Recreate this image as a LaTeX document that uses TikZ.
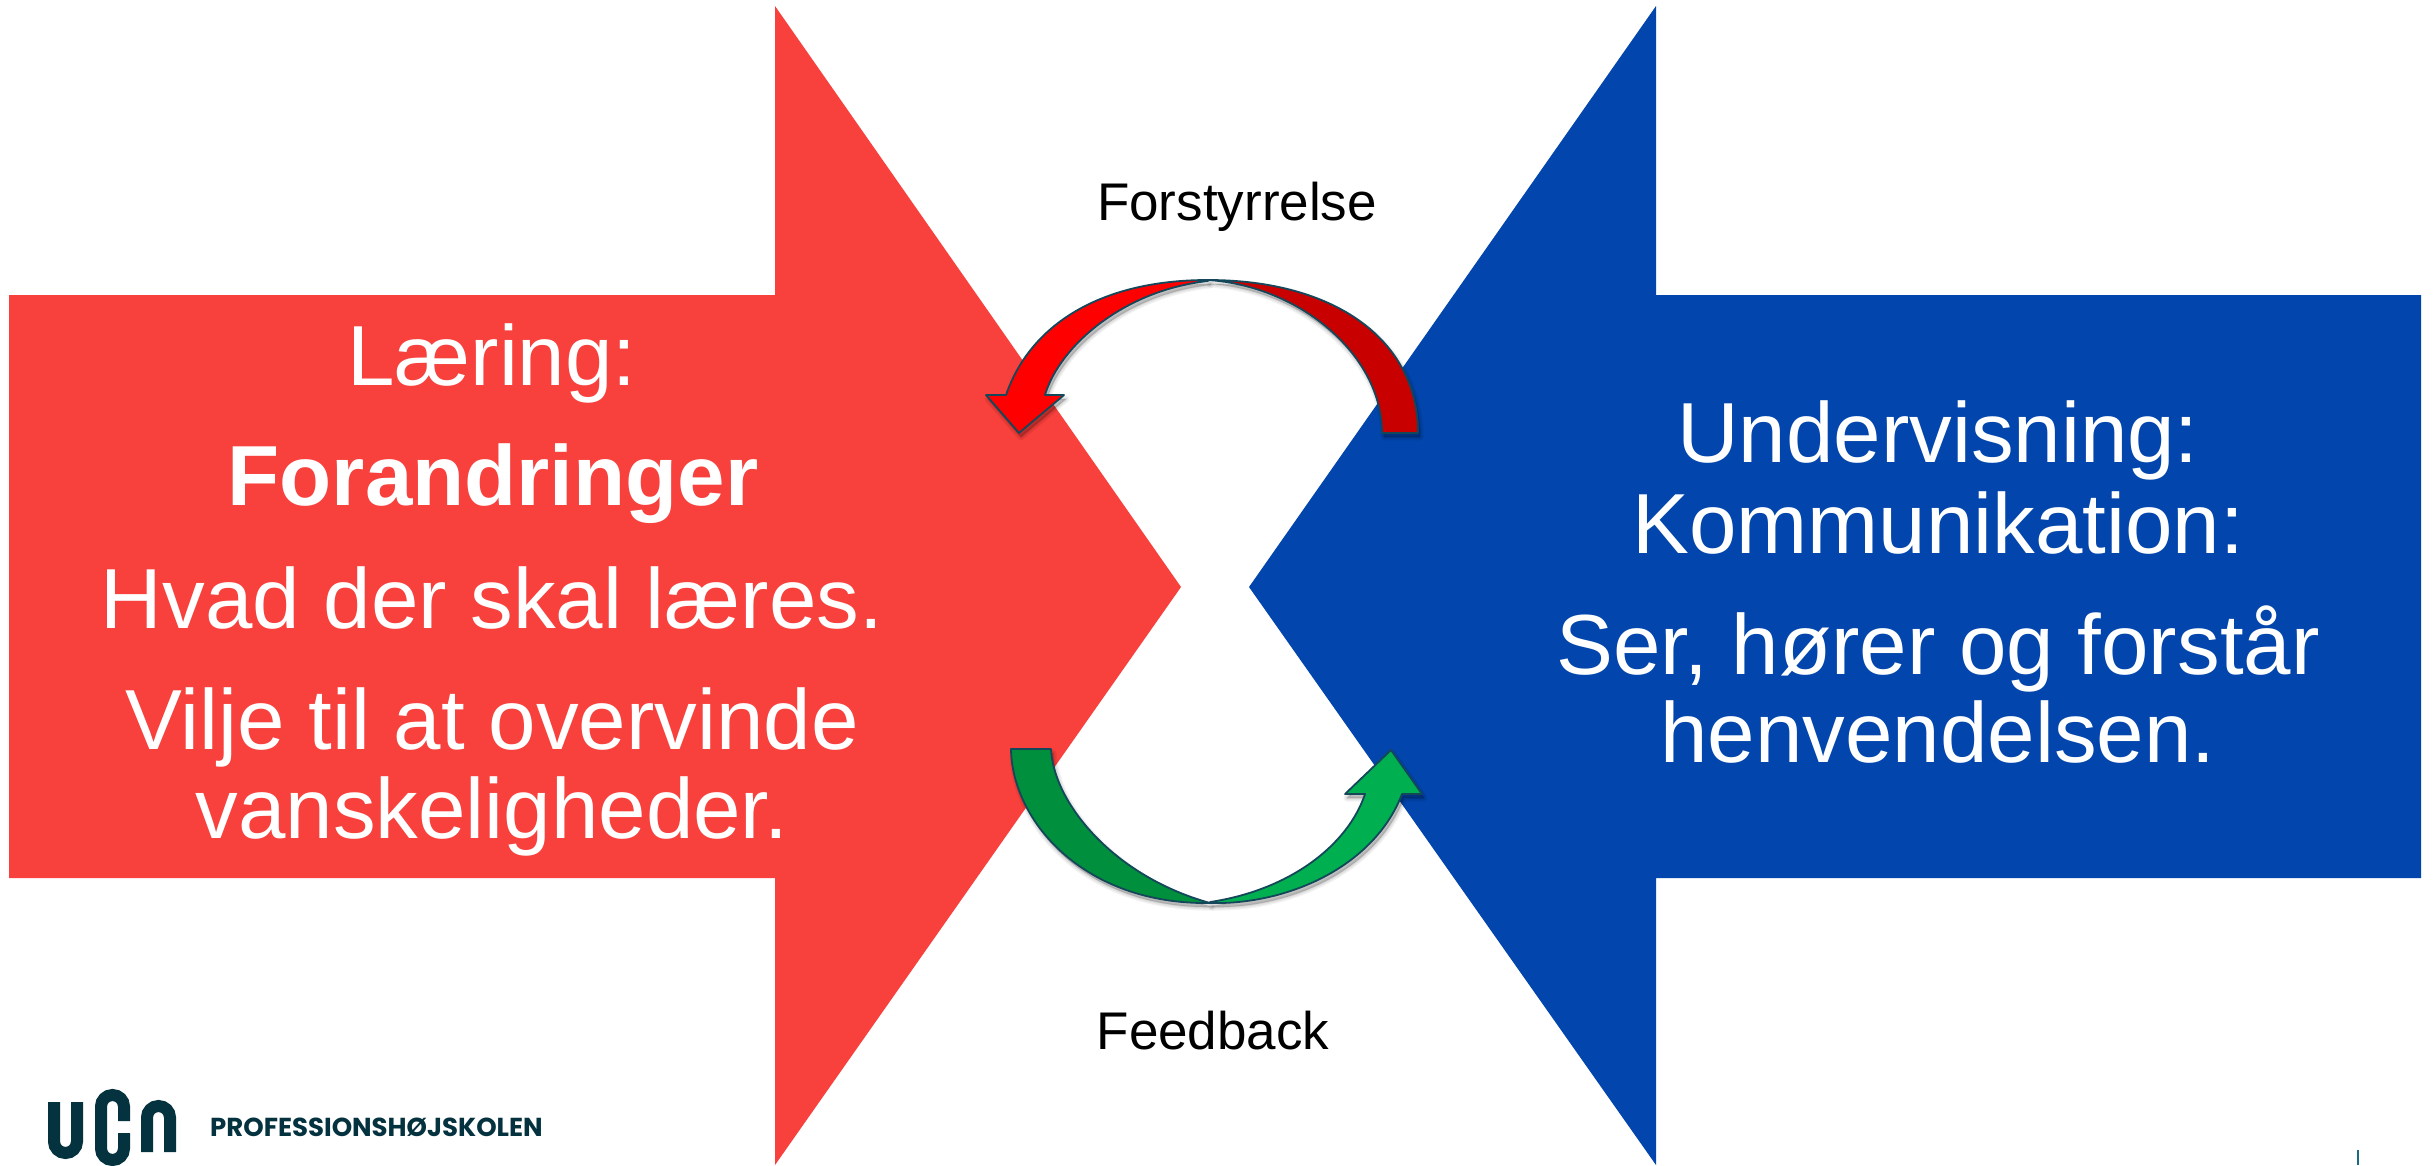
\documentclass[tikz,border=0pt]{standalone}
\usepackage{fontspec}
\setmainfont{Liberation Sans}
\newfontfamily\logofont{Poppins}
\definecolor{redarrow}{HTML}{F8403C}
\definecolor{bluearrow}{HTML}{0245AC}
\definecolor{outl}{HTML}{14475A}
\definecolor{logoink}{HTML}{04323F}
\definecolor{tick}{HTML}{1A6B80}
\definecolor{redA}{HTML}{FF0000}
\definecolor{redB}{HTML}{C80000}
\definecolor{greenA}{HTML}{00B050}
\definecolor{greenB}{HTML}{008F3C}
\tikzset{
  bigtext/.style={anchor=base,inner sep=0pt,text=white,font=\fontsize{85.3}{100}\selectfont},
  smalltext/.style={anchor=base,inner sep=0pt,text=black,font=\fontsize{53}{60}\selectfont},
  curved/.style={draw=outl,line width=1.8pt,line join=round},
  shadowlayer/.style={draw=black,fill=black,draw opacity=.05,fill opacity=.05,line join=round},
  logostroke/.style={draw=logoink,line width=12pt,rounded corners=11.5pt}
}
\def\redright{(1418,433) .. controls (1418,340) and (1335,280) .. (1208,280) .. controls (1300,286) and (1382,355) .. (1382,433) -- cycle}
\def\redleft{(1208,280) .. controls (1100,280) and (1030,325) .. (1006,395) -- (986,395) -- (1019,433) -- (1064,395) -- (1045,395) .. controls (1060,345) and (1125,290) .. (1208,281) -- cycle}
\def\greenleft{(1011,749) .. controls (1012,822) and (1085,905) .. (1210,903) .. controls (1110,875) and (1053,800) .. (1051,749) -- cycle}
\def\greenright{(1210,903) .. controls (1290,905) and (1375,865) .. (1402,794) -- (1422,794) -- (1391,750) -- (1345,794) -- (1365,794) .. controls (1348,845) and (1290,890) .. (1210,902) -- cycle}
\newcommand\softshade[1]{%
  \foreach \w in {7,4.5,2,0.5}{\path[shadowlayer,line width=\w pt,shift={(2,4)}] #1;}}
\begin{document}
\begin{tikzpicture}[x=1pt,y=-1pt]
\useasboundingbox (0,0) rectangle (2433,1165);
\fill[white] (0,0) rectangle (2433,1165);
% large arrows
\fill[redarrow] (9,295) -- (775,295) -- (775,6) -- (1181,587) -- (775,1165) -- (775,878) -- (9,878) -- cycle;
\fill[bluearrow] (2421,295) -- (1656,295) -- (1656,6) -- (1249,587) -- (1656,1165) -- (1656,878) -- (2421,878) -- cycle;
% curved arrows
\softshade{\redright}
\softshade{\redleft}
\softshade{\greenleft}
\softshade{\greenright}
\path[curved,fill=redB] \redright;
\path[curved,fill=redA] \redleft;
\path[curved,fill=greenB] \greenleft;
\path[curved,fill=greenA] \greenright;
% left text
\node[bigtext] (laering) at (492,385) {Læring:};
\node[bigtext] (forandringer) at (493,505.5) {\bfseries Forandringer};
\node[bigtext] (hvad) at (492,628.5) {Hvad der skal læres.};
\node[bigtext] (vilje) at (492,749.5) {Vilje til at overvinde};
\node[bigtext] (vansk) at (492,838) {vanskeligheder.};
% right text
\node[bigtext] (underv) at (1938,462) {Undervisning:};
\node[bigtext] (komm) at (1938,553) {Kommunikation:};
\node[bigtext] (ser) at (1938,674) {Ser, hører og forstår};
\node[bigtext] (henv) at (1938,762) {henvendelsen.};
% labels
\node[smalltext] (forst) at (1237,220) {Forstyrrelse};
\node[smalltext] (feedb) at (1213,1049) {Feedback};
% logo
\draw[logostroke] (54,1102) -- (54,1153) -- (77,1153) -- (77,1102);
\begin{scope}
\clip (0,0) rectangle (2433,1165);
\draw[logostroke] (124,1121) -- (124,1095) -- (101,1095) -- (101,1160) -- (124,1160) -- (124,1133);
\end{scope}
\draw[logostroke] (147,1152) -- (147,1106) -- (170,1106) -- (170,1152);
\node[anchor=base west,inner sep=0pt,text=logoink,font=\logofont\bfseries\fontsize{26}{30}\selectfont] (prof) at (210,1136) {PROFESSIONSHØJSKOLEN};
% tick
\draw[tick,line width=2pt] (2358,1150) -- (2358,1165);
\end{tikzpicture}
\end{document}
